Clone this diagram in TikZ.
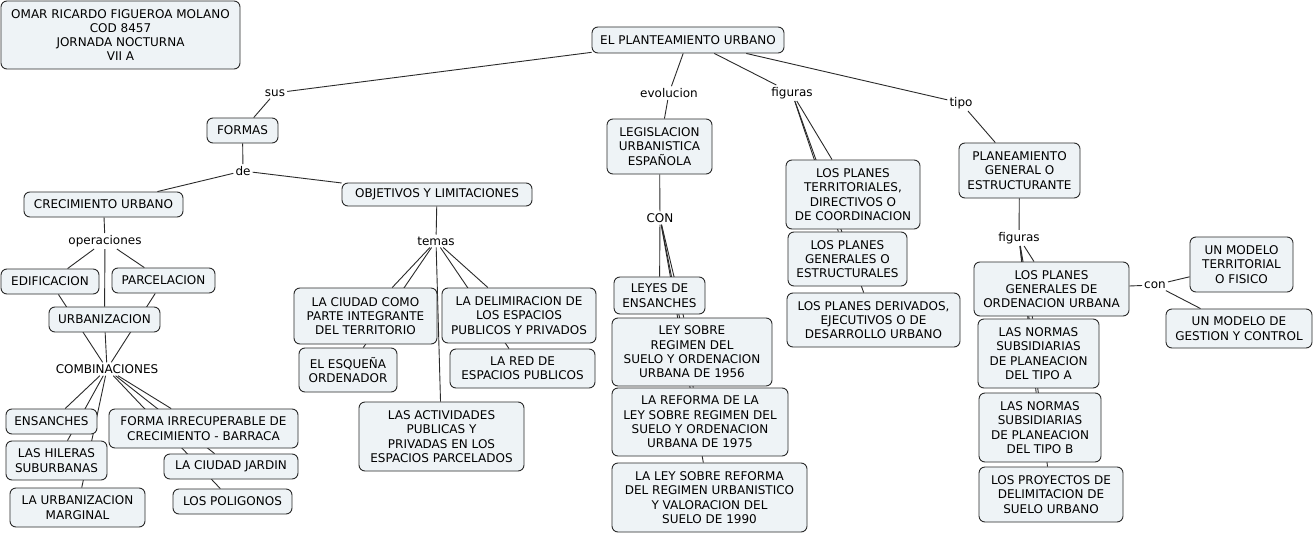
\documentclass[tikz,border=0pt]{standalone}
\usepackage{fontspec}
\setmainfont{DejaVu Sans}
\pgfdeclarelayer{edgelayer}
\pgfsetlayers{edgelayer,main}
\definecolor{boxfill}{HTML}{EEF3F6}
\definecolor{boxline}{HTML}{2A2A2A}
\tikzset{
  concept/.style={draw=boxline, line width=0.9pt, fill=boxfill, rounded corners=6pt,
    inner sep=0pt, align=center, font=\fontsize{12}{14.3}\selectfont},
  lbl/.style={inner sep=2pt, font=\fontsize{12}{14.3}\selectfont},
  conn/.style={draw=boxline, line width=0.9pt},
}
\newcommand{\cbox}[6]{% name, x1, y1, x2, y2, text
  \node[concept, minimum width={(#4-#2)*1pt}, minimum height={(#5-#3)*1pt}]
    (#1) at ({(#2+#4)/2},{(#3+#5)/2}) {#6};}
\begin{document}
\begin{tikzpicture}[x=1pt,y=-1pt]
\useasboundingbox (0,0) rectangle (1314,535);
\begin{pgfonlayer}{edgelayer}
\fill[white] (0,0) rectangle (1314,535);
\end{pgfonlayer}
% concepts
\cbox{omar}{1}{1}{240}{69}{OMAR RICARDO FIGUEROA MOLANO\\COD 8457\\JORNADA NOCTURNA\\VII A}
\cbox{plan}{592}{27}{784}{53}{EL PLANTEAMIENTO URBANO}
\cbox{formas}{207}{118}{278}{143}{FORMAS}
\cbox{crec}{24}{192}{183}{217}{CRECIMIENTO URBANO}
\cbox{obj}{342}{183}{532}{206}{OBJETIVOS Y LIMITACIONES}
\cbox{edif}{1}{269}{99}{294}{EDIFICACION}
\cbox{parc}{112}{268}{215}{293}{PARCELACION}
\cbox{urban}{49}{307}{160}{332}{URBANIZACION}
\cbox{ens}{6}{409}{97}{434}{ENSANCHES}
\cbox{hil}{6}{441}{107}{480}{LAS HILERAS\\SUBURBANAS}
\cbox{marg}{10}{488}{145}{527}{LA URBANIZACION\\MARGINAL}
\cbox{forma}{109}{409}{298}{448}{FORMA IRRECUPERABLE DE\\CRECIMIENTO - BARRACA}
\cbox{jardin}{164}{454}{298}{479}{LA CIUDAD JARDIN}
\cbox{polig}{173}{489}{292}{514}{LOS POLIGONOS}
\cbox{ciudad}{294}{288}{437}{344}{LA CIUDAD COMO\\PARTE INTEGRANTE\\DEL TERRITORIO}
\cbox{esq}{299}{348}{397}{392}{EL ESQUEÑA\\ORDENADOR}
\cbox{delim}{442}{288}{596}{343}{LA DELIMIRACION DE\\LOS ESPACIOS\\PUBLICOS Y PRIVADOS}
\cbox{red}{450}{349}{595}{388}{LA RED DE\\ESPACIOS PUBLICOS}
\cbox{activ}{359}{402}{524}{471}{LAS ACTIVIDADES\\PUBLICAS Y\\PRIVADAS EN LOS\\ESPACIOS PARCELADOS}
\cbox{legis}{607}{119}{712}{174}{LEGISLACION\\URBANISTICA\\ESPAÑOLA}
\cbox{leyes}{614}{277}{705}{314}{LEYES DE\\ENSANCHES}
\cbox{leyA}{612}{318}{772}{386}{LEY SOBRE\\REGIMEN DEL\\SUELO Y ORDENACION\\URBANA DE 1956}
\cbox{refB}{612}{388}{788}{456}{LA REFORMA DE LA\\LEY SOBRE REGIMEN DEL\\SUELO Y ORDENACION\\URBANA DE 1975}
\cbox{leyC}{612}{463}{807}{532}{LA LEY SOBRE REFORMA\\DEL REGIMEN URBANISTICO\\Y VALORACION DEL\\SUELO DE 1990}
\cbox{terr}{786}{160}{920}{229}{LOS PLANES\\TERRITORIALES,\\DIRECTIVOS O\\DE COORDINACION}
\cbox{gen}{788}{232}{907}{286}{LOS PLANES\\GENERALES O\\ESTRUCTURALES}
\cbox{deriv}{787}{293}{960}{347}{LOS PLANES DERIVADOS,\\EJECUTIVOS O DE\\DESARROLLO URBANO}
\cbox{planeam}{959}{143}{1080}{198}{PLANEAMIENTO\\GENERAL O\\ESTRUCTURANTE}
\cbox{pgou}{974}{262}{1129}{316}{LOS PLANES\\GENERALES DE\\ORDENACION URBANA}
\cbox{umt}{1190}{237}{1293}{292}{UN MODELO\\TERRITORIAL\\O FISICO}
\cbox{umg}{1166}{309}{1312}{348}{UN MODELO DE\\GESTION Y CONTROL}
\cbox{nsa}{978}{319}{1099}{388}{LAS NORMAS\\SUBSIDIARIAS\\DE PLANEACION\\DEL TIPO A}
\cbox{nsb}{979}{393}{1101}{462}{LAS NORMAS\\SUBSIDIARIAS\\DE PLANEACION\\DEL TIPO B}
\cbox{proy}{979}{467}{1123}{522}{LOS PROYECTOS DE\\DELIMITACION DE\\SUELO URBANO}
% linking phrases
\node[lbl] (sus) at (275,93) {sus};
\node[lbl] (de) at (243,171) {de};
\node[lbl] (oper) at (105,241) {operaciones};
\node[lbl] (comb) at (107,369) {COMBINACIONES};
\node[lbl] (temas) at (436,241) {temas};
\node[lbl] (evol) at (669,93) {evolucion};
\node[lbl] (con) at (660,218) {CON};
\node[lbl] (fig) at (792,93) {figuras};
\node[lbl] (tipo) at (961,103) {tipo};
\node[lbl] (figB) at (1019,238) {figuras};
\node[lbl] (conB) at (1155,285) {con};
% connectors
\begin{pgfonlayer}{edgelayer}
\foreach \a/\b in {plan/sus, sus/formas, formas/de, de/crec, de/obj,
  crec/oper, oper/edif, oper/urban, oper/parc,
  edif/comb, urban/comb, parc/comb,
  comb/ens, comb/hil, comb/marg, comb/forma, comb/jardin, comb/polig,
  obj/temas, temas/ciudad, temas/esq, temas/activ, temas/delim, temas/red,
  plan/evol, evol/legis, legis/con, con/leyes, con/leyA, con/refB, con/leyC,
  plan/fig, fig/terr, fig/gen, fig/deriv,
  plan/tipo, tipo/planeam, planeam/figB, figB/pgou, figB/nsa, figB/nsb, figB/proy,
  pgou/conB, conB/umt, conB/umg}
  \draw[conn] (\a) -- (\b);
\end{pgfonlayer}
\end{tikzpicture}
\end{document}
